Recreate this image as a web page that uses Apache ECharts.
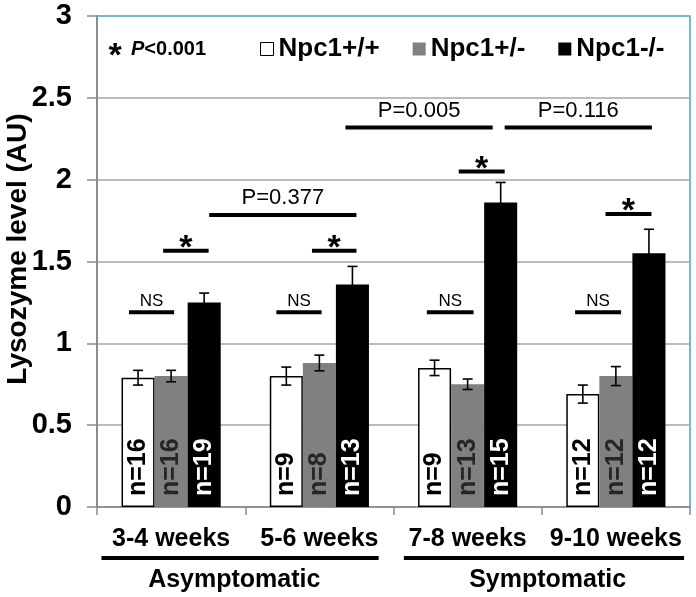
<!DOCTYPE html>
<html>
<head>
<meta charset="utf-8">
<script src="https://cdn.jsdelivr.net/npm/echarts@6/dist/echarts.min.js"></script>
<style>html,body{margin:0;padding:0;background:#fff}#c{width:696px;height:597px}</style>
</head>
<body>
<div id="c"></div>
<script>
// ---- data ----
const categories = ['3-4 weeks', '5-6 weeks', '7-8 weeks', '9-10 weeks'];
const seriesNames = ['Npc1+/+', 'Npc1+/-', 'Npc1-/-'];
const wtMean  = [0.79, 0.80, 0.85, 0.69];
const hetMean = [0.80, 0.88, 0.75, 0.80];
const koMean  = [1.25, 1.36, 1.86, 1.55];
const wtErr   = [0.045, 0.055, 0.047, 0.055];
const hetErr  = [0.035, 0.048, 0.032, 0.058];
const koErr   = [0.057, 0.11, 0.123, 0.147];
const wtN  = [16, 9, 9, 12];
const hetN = [16, 8, 13, 12];
const koN  = [19, 13, 15, 12];
const yTicks = [0, 0.5, 1, 1.5, 2, 2.5, 3];
// significance annotations: [fromX, toX, y, label] (x in category units)
const nsBrackets = [[0.216, 0.52, 1.19], [1.21, 1.515, 1.19], [2.225, 2.54, 1.19], [3.225, 3.535, 1.19]];
const starBrackets = [[0.446, 0.753, 1.565], [1.45, 1.75, 1.565], [2.44, 2.75, 2.05], [3.43, 3.74, 1.79]];
const pBrackets = [[0.757, 1.75, 1.784, 'P=0.377'], [1.676, 2.669, 2.318, 'P=0.005'], [2.75, 3.743, 2.318, 'P=0.116']];
const stageGroups = [[0.03, 1.90, 0.926, 'Asymptomatic'], [2.07, 3.96, 3.04, 'Symptomatic']];

const FONT = 'Liberation Sans, Arial, sans-serif';
const BAR_FRAC = 0.223;

const chart = echarts.init(document.getElementById('c'), null, {renderer: 'canvas'});

function barLabel(nArr, color) {
  return {
    show: true, position: 'insideBottom', rotate: 90, align: 'left', verticalAlign: 'middle',
    distance: 11, fontFamily: FONT, fontWeight: 'bold', fontSize: 25, color: color,
    formatter: p => 'n=' + nArr[p.dataIndex]
  };
}

const errData = [];
[[wtMean, wtErr], [hetMean, hetErr], [koMean, koErr]].forEach((pair, s) => {
  pair[0].forEach((m, i) => errData.push([i, m, pair[1][i], s]));
});

const annData = [];
nsBrackets.forEach(b => annData.push([b[0], b[1], b[2], 'ns']));
starBrackets.forEach(b => annData.push([b[0], b[1], b[2], 'star']));
pBrackets.forEach((b, k) => annData.push([b[0], b[1], b[2], 'p' + k]));
stageGroups.forEach((g, k) => annData.push([g[0], g[1], g[2], 'g' + k]));

const option = {
  animation: false,
  backgroundColor: '#fff',
  grid: {left: 97, right: 6, top: 16, bottom: 90, show: true, borderColor: '#4ba3c3', borderWidth: 1.5, backgroundColor: 'transparent'},
  legend: {
    left: 260, top: 36, padding: 0, itemGap: 33, itemWidth: 13, itemHeight: 13, icon: 'rect',
    textStyle: {fontFamily: FONT, fontWeight: 'bold', fontSize: 26, color: '#000'},
    data: [
      {name: seriesNames[0], itemStyle: {color: '#fff', borderColor: '#000', borderWidth: 1}},
      {name: seriesNames[1], itemStyle: {color: '#808080', borderWidth: 0}},
      {name: seriesNames[2], itemStyle: {color: '#000', borderWidth: 0}}
    ]
  },
  xAxis: [
    {
      type: 'category', data: categories, gridIndex: 0,
      axisLine: {lineStyle: {color: '#8c8c8c', width: 1.5}},
      axisTick: {show: true, length: 8, lineStyle: {color: '#8c8c8c', width: 1.5}},
      axisLabel: {fontFamily: FONT, fontWeight: 'bold', fontSize: 25, color: '#000', margin: 20, interval: 0}
    },
    {type: 'value', min: 0, max: 4, show: false, gridIndex: 0}
  ],
  yAxis: {
    type: 'value', min: yTicks[0], max: yTicks[yTicks.length - 1], interval: 0.5,
    axisLine: {show: true, lineStyle: {color: '#8c8c8c', width: 2}},
    axisTick: {show: true, length: 10, lineStyle: {color: '#8c8c8c', width: 1.5}},
    splitLine: {showMaxLine: false, lineStyle: {color: '#a6a6a6', width: 1.5}},
    axisLabel: {fontFamily: FONT, fontWeight: 'bold', fontSize: 29, color: '#000', margin: 25}
  },
  graphic: [
    {
      type: 'text', rotation: Math.PI / 2, x: 18, y: 249,
      style: {text: 'Lysozyme level (AU)', font: 'bold 28px ' + FONT, fill: '#000', textAlign: 'center', textVerticalAlign: 'middle'}
    },
    {
      type: 'text', x: 115, y: 57,
      style: {text: '*', font: 'bold 34px ' + FONT, fill: '#000', textAlign: 'center', textVerticalAlign: 'middle'}
    },
    {
      type: 'text', x: 131, y: 49,
      style: {
        text: '{p|P}{t|<0.001}', textVerticalAlign: 'middle', textAlign: 'left',
        rich: {
          p: {fontFamily: FONT, fontWeight: 'bold', fontStyle: 'italic', fontSize: 20, fill: '#000'},
          t: {fontFamily: FONT, fontWeight: 'bold', fontSize: 20, fill: '#000'}
        }
      }
    }
  ],
  series: [
    {
      name: seriesNames[0], type: 'bar', data: wtMean, barWidth: (BAR_FRAC * 100) + '%', barGap: '0%',
      itemStyle: {color: '#fff', borderColor: '#000', borderWidth: 1.5}, label: barLabel(wtN, '#000'), z: 2
    },
    {
      name: seriesNames[1], type: 'bar', data: hetMean, barWidth: (BAR_FRAC * 100) + '%', barGap: '0%',
      itemStyle: {color: '#808080'}, label: barLabel(hetN, '#262626'), z: 2
    },
    {
      name: seriesNames[2], type: 'bar', data: koMean, barWidth: (BAR_FRAC * 100) + '%', barGap: '0%',
      itemStyle: {color: '#000'}, label: barLabel(koN, '#fff'), z: 2
    },
    {
      type: 'custom', name: 'err', xAxisIndex: 0, data: errData, z: 3, silent: true,
      renderItem: function (params, api) {
        const cat = api.value(0), m = api.value(1), e = api.value(2), s = api.value(3);
        const band = api.size([1, 0])[0];
        const top = api.coord([cat, m + e]);
        const bot = api.coord([cat, m - e]);
        const x = top[0] + (s - 1) * band * BAR_FRAC;
        const st = {stroke: '#000', lineWidth: 1.6};
        return {type: 'group', children: [
          {type: 'line', shape: {x1: x, y1: top[1], x2: x, y2: bot[1]}, style: st},
          {type: 'line', shape: {x1: x - 5, y1: top[1], x2: x + 5, y2: top[1]}, style: st},
          {type: 'line', shape: {x1: x - 5, y1: bot[1], x2: x + 5, y2: bot[1]}, style: st}
        ]};
      }
    },
    {
      type: 'custom', name: 'ann', xAxisIndex: 1, data: annData, z: 4, silent: true, clip: false,
      renderItem: function (params, api) {
        const x1 = api.value(0), x2 = api.value(1), y = api.value(2);
        const kind = annData[params.dataIndex][3];
        const st = {stroke: '#000', lineWidth: 4};
        if (kind === 'ns' || kind === 'star' || kind[0] === 'p') {
          const a = api.coord([x1, y]), b = api.coord([x2, y]);
          const cx = (a[0] + b[0]) / 2;
          const children = [{type: 'line', shape: {x1: a[0], y1: a[1], x2: b[0], y2: b[1]}, style: st}];
          if (kind === 'ns') {
            children.push({type: 'text', x: cx, y: a[1] - 11, style: {text: 'NS', font: '17px ' + FONT, fill: '#000', textAlign: 'center', textVerticalAlign: 'middle'}});
          } else if (kind === 'star') {
            children.push({type: 'text', x: cx, y: a[1] - 2, style: {text: '*', font: 'bold 34px ' + FONT, fill: '#000', textAlign: 'center', textVerticalAlign: 'middle'}});
          } else {
            const lbl = pBrackets[+kind.slice(1)][3];
            children.push({type: 'text', x: cx, y: a[1] - 17, style: {text: lbl, font: '22px ' + FONT, fill: '#000', textAlign: 'center', textVerticalAlign: 'middle'}});
          }
          return {type: 'group', children: children};
        }
        // stage groups below the axis
        const base = api.coord([x1, 0])[1];
        const a = api.coord([x1, 0]), b = api.coord([x2, 0]), c = api.coord([y, 0]);
        const lbl = stageGroups[+kind.slice(1)][3];
        return {type: 'group', children: [
          {type: 'line', shape: {x1: a[0], y1: base + 51, x2: b[0], y2: base + 51}, style: st},
          {type: 'text', x: c[0], y: base + 73, style: {text: lbl, font: 'bold 25px ' + FONT, fill: '#000', textAlign: 'center', textVerticalAlign: 'middle'}}
        ]};
      }
    }
  ]
};
chart.setOption(option);
</script>
</body>
</html>
